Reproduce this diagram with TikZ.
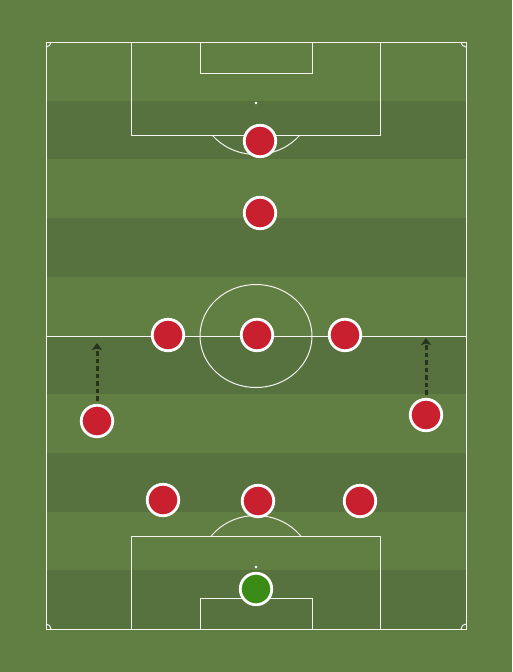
\documentclass[tikz,border=0pt]{standalone}
\usepackage{xcolor}
\usetikzlibrary{arrows.meta, positioning, shadows}
\definecolor{grass}{HTML}{627F43}
\definecolor{grassdark}{HTML}{58723F}
\definecolor{shirt}{HTML}{C8202F}
\definecolor{keeper}{HTML}{3B8C16}
\definecolor{runline}{HTML}{26331D}

\begin{document}
\begin{tikzpicture}[x=1pt, y=-1pt,
    line/.style={draw=white!92!grass, line width=1pt},
    player/.style={circle, draw=white, line width=2.8pt, fill=shirt, minimum size=31.5pt, inner sep=0pt,
        drop shadow={opacity=0.3, shadow xshift=0.6pt, shadow yshift=-1pt}},
    gk/.style={player, fill=keeper},
    run/.style={draw=runline, line width=3pt, dash pattern=on 4.5pt off 3pt, shorten <=3pt,
        -{Stealth[length=7pt, width=10pt, inset=1.5pt]}}]
    % Background and stripes
    \fill[grass] (0,0) rectangle (512,672);
    \useasboundingbox (0,0) rectangle (512,672);
    \foreach \i in {1,3,5,7,9}
        \fill[grassdark] (46,{42+\i*58.7}) rectangle (466,{42+(\i+1)*58.7});

    % Pitch lines
    \draw[line] (46,42) rectangle (466,629);
    \draw[line] (46,336) -- (466,336);
    \draw[line] (256,336) ellipse [x radius=56, y radius=51.5];
    \draw[line] (131,42) rectangle (380,135);
    \draw[line] (200,42) rectangle (312,73);
    \draw[line] (131,629) rectangle (380,536);
    \draw[line] (200,629) rectangle (312,598);
    \fill[white] (256,103) circle (1.4);
    \fill[white] (256,567) circle (1.4);
    \begin{scope}
        \clip (0,135) rectangle (512,300);
        \draw[line] (256,103) ellipse [x radius=56, y radius=51.5];
    \end{scope}
    \begin{scope}
        \clip (0,536) rectangle (512,400);
        \draw[line] (256,567) ellipse [x radius=56, y radius=51.5];
    \end{scope}
    % Corners
    \draw[line] (46,47) arc [start angle=90, end angle=0, radius=5];
    \draw[line] (461,42) arc [start angle=180, end angle=90, radius=5];
    \draw[line] (51,629) arc [start angle=0, end angle=-90, radius=5];
    \draw[line] (466,624) arc [start angle=270, end angle=180, radius=5];

    % Players
    \node[player] (st) at (260,141) {};
    \node[player] (am) at (260,213) {};
    \node[player] (cml) at (168,335) {};
    \node[player] (cmc) at (257,335) {};
    \node[player] (cmr) at (345,335) {};
    \node[player] (wbl) at (97,421) {};
    \node[player] (wbr) at (426,415) {};
    \node[player] (cbl) at (163,500) {};
    \node[player] (cbc) at (258,501) {};
    \node[player] (cbr) at (360,501) {};
    \node[gk] (gk) at (256,589) {};

    % Runs
    \coordinate (wblto) at (97,343);
    \coordinate (wbrto) at (426,338);
    \draw[run] (wbl) -- (wblto);
    \draw[run] (wbr) -- (wbrto);
\end{tikzpicture}
\end{document}
